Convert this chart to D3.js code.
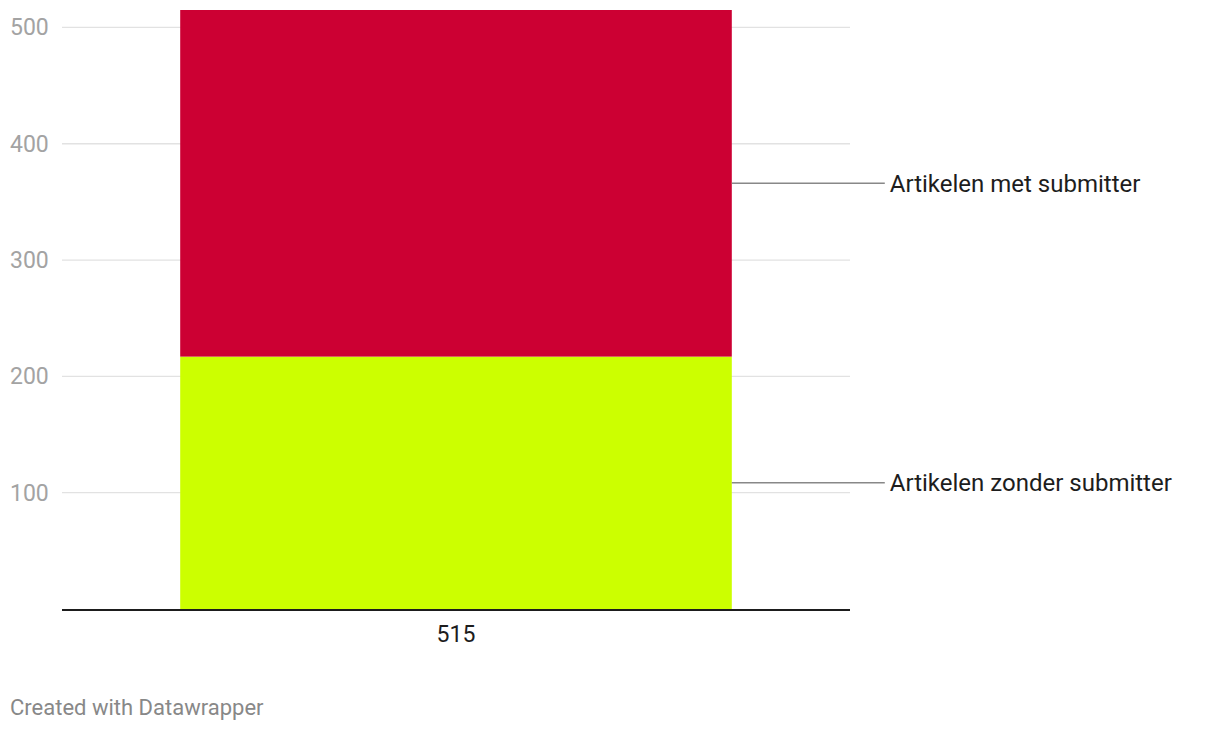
<!DOCTYPE html>
<html>
<head>
<meta charset="utf-8">
<script src="https://cdn.jsdelivr.net/npm/d3@7"></script>
<style>
  body { margin: 0; background: #fff; }
  svg { display: block; font-family: Roboto, "Noto Sans", sans-serif; }
</style>
</head>
<body>
<svg id="chart"></svg>
<script>
//data
const categories = ["515"];
const seriesNames = ["Artikelen zonder submitter", "Artikelen met submitter"];
const zonder = [217];
const met = [298];
const yTicks = [100, 200, 300, 400, 500];
const colors = ["#ccff00", "#cc0033"];

const width = 1220, height = 730;
const margin = { top: 10, right: 370, bottom: 121, left: 62 };

const svg = d3.select("#chart").attr("width", width).attr("height", height);

const rows = categories.map((c, i) => ({ cat: c, zonder: zonder[i], met: met[i] }));
const stack = d3.stack().keys(["zonder", "met"])(rows);

const x = d3.scaleBand()
  .domain(categories)
  .range([margin.left, width - margin.right])
  .paddingInner(0.3)
  .paddingOuter(0.15);

const y = d3.scaleLinear()
  .domain([0, d3.max(rows, d => d.zonder + d.met)])
  .range([height - margin.bottom, margin.top]);

//gridlines
svg.append("g")
  .selectAll("line")
  .data(yTicks)
  .join("line")
  .attr("x1", margin.left)
  .attr("x2", width - margin.right)
  .attr("y1", d => y(d))
  .attr("y2", d => y(d))
  .attr("stroke", "#e2e2e2")
  .attr("stroke-width", 1.3);

//y tick labels
svg.append("g")
  .selectAll("text")
  .data(yTicks)
  .join("text")
  .attr("x", 10)
  .attr("y", d => y(d))
  .attr("dy", "0.35em")
  .attr("fill", "#a3a3a3")
  .style("font-size", "23px")
  .text(d => d);

//bars
svg.append("g")
  .selectAll("g")
  .data(stack)
  .join("g")
  .attr("fill", (d, i) => colors[i])
  .selectAll("rect")
  .data(d => d)
  .join("rect")
  .attr("x", d => x(d.data.cat))
  .attr("width", x.bandwidth())
  .attr("y", d => y(d[1]))
  .attr("height", d => y(d[0]) - y(d[1]));

//baseline
svg.append("line")
  .attr("x1", margin.left)
  .attr("x2", width - margin.right)
  .attr("y1", y(0) + 1)
  .attr("y2", y(0) + 1)
  .attr("stroke", "#1d1d1d")
  .attr("stroke-width", 2);

//x labels
svg.append("g")
  .selectAll("text")
  .data(categories)
  .join("text")
  .attr("x", d => x(d) + x.bandwidth() / 2)
  .attr("y", y(0) + 25)
  .attr("dy", "0.35em")
  .attr("text-anchor", "middle")
  .attr("fill", "#1d1d1d")
  .style("font-size", "23px")
  .text(d => d);

//series labels with leader lines
const last = rows[rows.length - 1];
const barRight = x(last.cat) + x.bandwidth();
const lab = svg.append("g")
  .selectAll("g")
  .data(stack)
  .join("g");
lab.append("line")
  .attr("x1", barRight)
  .attr("x2", barRight + 153)
  .attr("y1", d => y((d[0][0] + d[0][1]) / 2))
  .attr("y2", d => y((d[0][0] + d[0][1]) / 2))
  .attr("stroke", "#888")
  .attr("stroke-width", 1.5);
lab.append("text")
  .attr("x", barRight + 158)
  .attr("y", d => y((d[0][0] + d[0][1]) / 2))
  .attr("dy", "0.35em")
  .attr("fill", "#1d1d1d")
  .style("font-size", "24px")
  .text((d, i) => seriesNames[i]);

//footer
svg.append("text")
  .attr("x", 10)
  .attr("y", 707)
  .attr("dy", "0.35em")
  .attr("fill", "#888")
  .style("font-size", "22px")
  .text("Created with Datawrapper");
</script>
</body>
</html>
